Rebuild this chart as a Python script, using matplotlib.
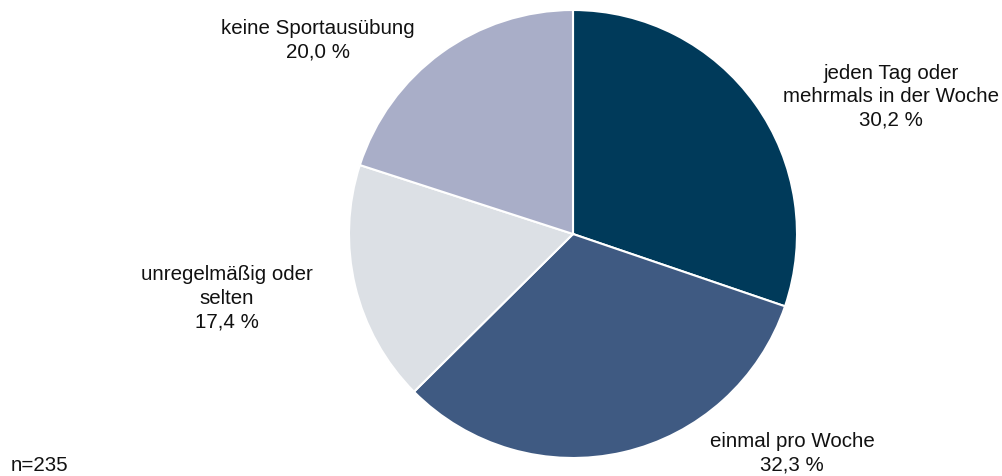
import matplotlib.pyplot as plt

plt.rcParams['font.family'] = ['Liberation Sans', 'DejaVu Sans']

# Häufigkeit der Sportausübung
kategorien = ['jeden Tag oder\nmehrmals in der Woche', 'einmal pro Woche',
              'unregelmäßig oder\nselten', 'keine Sportausübung']
anteile = [30.2, 32.3, 17.4, 20.0]
farben = ['#003a5a', '#3f5a82', '#dce0e5', '#a9aec8']
n_befragte = 235

W, H = 1003, 477
fig = plt.figure(figsize=(W / 100, H / 100), dpi=100)
ax = fig.add_axes([0, 0, 1, 1])

ax.pie(anteile, colors=farben, startangle=90, counterclock=False,
       center=(573, H - 235), radius=224,
       wedgeprops=dict(edgecolor='white', linewidth=1.5))

# pie() setzt eigene Grenzen, daher danach in Pixelkoordinaten festlegen
ax.set_xlim(0, W)
ax.set_ylim(0, H)
ax.set_aspect('equal')
ax.axis('off')

# Beschriftungen neben den Segmenten
label_pos = [(891, H - 97), (792, H - 453), (227, H - 298), (318, H - 40)]
for name, wert, (x, y) in zip(kategorien, anteile, label_pos):
    txt = f'{name}\n{wert:.1f} %'.replace('.', ',')
    ax.text(x, y, txt, ha='center', va='center', fontsize=14.8,
            linespacing=1.3, color='#111111')

ax.text(11, H - 466, f'n={n_befragte}', ha='left', va='center',
        fontsize=14.8, color='#111111')

fig.savefig('out.png', dpi=100)
